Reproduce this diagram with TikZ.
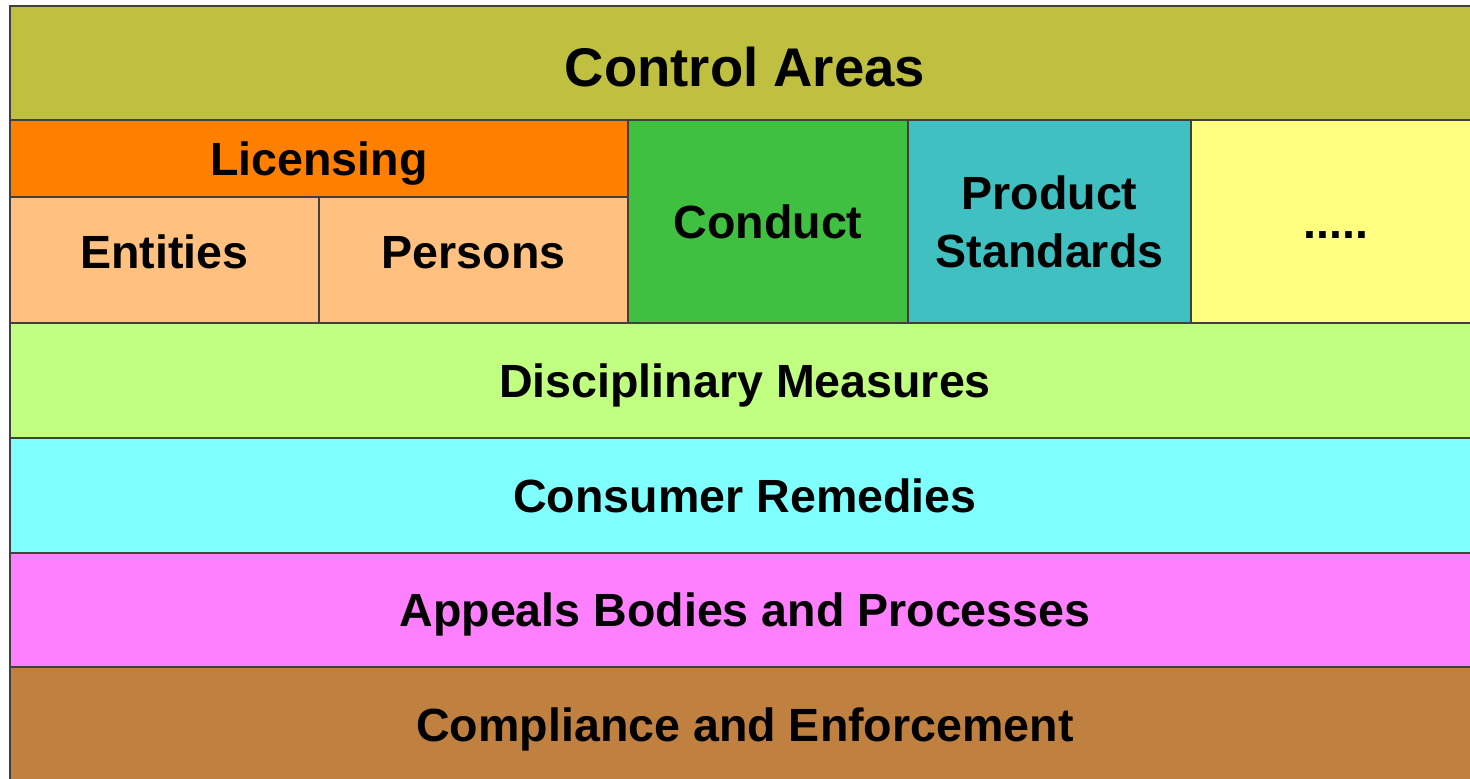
\documentclass[tikz,border=0pt]{standalone}
\usepackage{fontspec}
\setmainfont{Liberation Sans}
\usetikzlibrary{positioning}

\definecolor{ctrlcol}{RGB}{192,192,64}
\definecolor{liccol}{RGB}{255,128,0}
\definecolor{subcol}{RGB}{255,192,128}
\definecolor{condcol}{RGB}{64,192,64}
\definecolor{prodcol}{RGB}{64,192,192}
\definecolor{morecol}{RGB}{255,255,128}
\definecolor{disccol}{RGB}{192,255,128}
\definecolor{conscol}{RGB}{128,255,255}
\definecolor{appcol}{RGB}{255,128,255}
\definecolor{compcol}{RGB}{192,128,64}

\tikzset{
  layer/.style={draw=black!75, line width=0.7pt, rectangle, inner sep=0pt, outer sep=0pt,
    anchor=north west, align=center, text height=19pt, text depth=0pt,
    font=\fontsize{26.5}{33}\selectfont\bfseries},
  band/.style={layer, minimum width=29.4cm, minimum height=2.3cm}
}

\begin{document}
\begin{tikzpicture}
  \useasboundingbox (0,0) rectangle (29.4,-15.58);
  \fill[white] (0,0) rectangle (29.4,-15.58);
  \node[layer, fill=ctrlcol, minimum width=29.4cm, minimum height=2.28cm, text height=22.2pt,
        font=\fontsize{31}{38}\selectfont\bfseries] (ctrl) at (0.2,-0.12) {\raisebox{-0.08cm}{Control Areas}};
  \node[layer, fill=liccol, minimum width=12.36cm, minimum height=1.54cm] (lic) at (ctrl.south west) {Licensing};
  \node[layer, fill=subcol, minimum width=6.18cm, minimum height=2.52cm] (ent) at (lic.south west) {\raisebox{0.16cm}{Entities}};
  \node[layer, fill=subcol, minimum width=6.18cm, minimum height=2.52cm, right=0pt of ent, anchor=west] (pers) {\raisebox{0.16cm}{Persons}};
  \node[layer, fill=condcol, minimum width=5.6cm, minimum height=4.06cm] (cond) at (lic.north east) {Conduct};
  \node[layer, fill=prodcol, minimum width=5.66cm, minimum height=4.06cm, text height=, text depth=] (prod) at (cond.north east) {Product\\Standards};
  \node[layer, fill=morecol, minimum width=5.8cm, minimum height=4.06cm] (more) at (prod.north east) {.....};
  \node[band, fill=disccol] (disc) at (ent.south west) {Disciplinary Measures};
  \node[band, fill=conscol] (cons) at (disc.south west) {Consumer Remedies};
  \node[band, fill=appcol, minimum height=2.28cm] (app) at (cons.south west) {Appeals Bodies and Processes};
  \node[band, fill=compcol] (comp) at (app.south west) {Compliance and Enforcement};
\end{tikzpicture}
\end{document}
